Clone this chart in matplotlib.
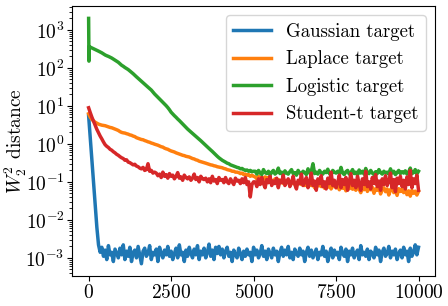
import numpy as np
import matplotlib
matplotlib.use("Agg")
import matplotlib.pyplot as plt
from matplotlib.ticker import LogLocator

# iterations (shared x grid, every 50 iterations)
STEPS = list(range(0, 10001, 50))

GAUSSIAN = [5.5, 1.4, 0.35, 0.09, 0.022, 0.0063, 0.0022, 0.0014,
    0.0019, 0.0011, 0.0016, 0.0009, 0.0021, 0.0012, 0.0014, 0.0008, 0.0017, 0.0013,
    0.0010, 0.0018, 0.0012, 0.0022, 0.0009, 0.0015, 0.0011, 0.0019, 0.0008, 0.0014,
    0.0016, 0.0010, 0.0020, 0.0012, 0.0007, 0.0015, 0.0018, 0.0011, 0.0013, 0.0021,
    0.0009, 0.0014, 0.0012, 0.0017, 0.0008, 0.0019, 0.0013, 0.0010, 0.0016, 0.0012,
    0.0020, 0.0011, 0.0015, 0.0009, 0.0013, 0.0018, 0.0010, 0.0022, 0.0012, 0.0014,
    0.0008, 0.0016, 0.0011, 0.0019, 0.0013, 0.0010, 0.0017, 0.0012, 0.0021, 0.0009,
    0.0015, 0.0012, 0.0018, 0.0010, 0.0014, 0.0023, 0.0011, 0.0016, 0.0009, 0.0019,
    0.0013, 0.0020, 0.0012, 0.0017, 0.0010, 0.0015, 0.0019, 0.0011, 0.0014, 0.0008,
    0.0016, 0.0012, 0.0010, 0.0018, 0.0013, 0.0009, 0.0015, 0.0011, 0.0017, 0.0012,
    0.0014, 0.0008, 0.0019, 0.0012, 0.0016, 0.0010, 0.0013, 0.0021, 0.0011, 0.0015,
    0.0009, 0.0017, 0.0013, 0.0010, 0.0018, 0.0012, 0.0015, 0.0008, 0.0014, 0.0019,
    0.0011, 0.0016, 0.0012, 0.0020, 0.0010, 0.0014, 0.0009, 0.0017, 0.0013, 0.0011,
    0.0018, 0.0012, 0.0015, 0.0008, 0.0014, 0.0019, 0.0011, 0.0016, 0.0010, 0.0013,
    0.0017, 0.0009, 0.0014, 0.0012, 0.0020, 0.0011, 0.0015, 0.0008, 0.0013, 0.0018,
    0.0010, 0.0016, 0.0012, 0.0014, 0.0009, 0.0019, 0.0013, 0.0011, 0.0017, 0.0008,
    0.0015, 0.0012, 0.0018, 0.0010, 0.0013, 0.0016, 0.0009, 0.0021, 0.0012, 0.0014,
    0.0011, 0.0017, 0.0009, 0.0015, 0.0013, 0.0010, 0.0019, 0.0012, 0.0016, 0.0008,
    0.0014, 0.0018, 0.0011, 0.0013, 0.0020, 0.0010, 0.0015, 0.0012, 0.0017, 0.0009,
    0.0013, 0.0016, 0.0010, 0.0019, 0.0012, 0.0015, 0.0008, 0.0018, 0.0011, 0.0014,
    0.0022, 0.0012, 0.0019]

LAPLACE = [6.2, 5.0, 4.4, 4.0, 3.7, 3.5, 3.3, 3.2, 3.1, 3.05, 3.0,
    2.9, 2.8, 2.7, 2.65, 2.55, 2.45, 2.35, 2.25, 2.1, 2.0,
    1.95, 1.92, 1.85, 1.8, 1.72, 1.68, 1.6, 1.55, 1.45, 1.4,
    1.36, 1.3, 1.28, 1.22, 1.18, 1.13, 1.1, 1.05, 1.02, 0.98,
    0.95, 0.92, 0.88, 0.84, 0.82, 0.77, 0.74, 0.72, 0.68, 0.65,
    0.63, 0.61, 0.58, 0.56, 0.54, 0.52, 0.50, 0.49, 0.47, 0.46,
    0.45, 0.43, 0.41, 0.40, 0.38, 0.37, 0.35, 0.34, 0.33, 0.32,
    0.31, 0.30, 0.29, 0.28, 0.275, 0.265, 0.26, 0.25, 0.245, 0.24,
    0.235, 0.225, 0.22, 0.21, 0.205, 0.2, 0.19, 0.19, 0.18, 0.18,
    0.175, 0.165, 0.17, 0.155, 0.16, 0.15, 0.155, 0.14, 0.15, 0.14,
    0.135, 0.12, 0.14, 0.125, 0.13, 0.115, 0.135, 0.12, 0.13, 0.11,
    0.11, 0.1, 0.12, 0.095, 0.115, 0.1, 0.105, 0.09, 0.11, 0.1,
    0.1, 0.085, 0.105, 0.09, 0.095, 0.08, 0.1, 0.09, 0.085, 0.095,
    0.08, 0.09, 0.075, 0.095, 0.08, 0.085, 0.07, 0.09, 0.078, 0.082,
    0.075, 0.088, 0.068, 0.08, 0.072, 0.09, 0.065, 0.078, 0.085, 0.07,
    0.076, 0.062, 0.08, 0.068, 0.074, 0.058, 0.072, 0.066, 0.082, 0.064,
    0.07, 0.06, 0.075, 0.064, 0.052, 0.07, 0.062, 0.078, 0.056, 0.068,
    0.062, 0.072, 0.05, 0.066, 0.06, 0.075, 0.048, 0.064, 0.07, 0.055,
    0.065, 0.045, 0.062, 0.07, 0.052, 0.06, 0.044, 0.066, 0.056, 0.063,
    0.052, 0.062, 0.046, 0.058, 0.042, 0.06, 0.05, 0.057, 0.045, 0.056]

LOGISTIC_HEAD_ITERS = [0, 10, 20]
LOGISTIC_HEAD = [2000, 150, 360]
LOGISTIC = [350, 335, 318, 302, 290, 275, 262, 248, 232, 218,
    208, 200, 190, 181, 170, 160, 150, 140, 128, 117,
    110, 102, 96, 90, 83, 76, 70, 64, 58, 53,
    48, 44, 40.5, 37, 34, 31, 28.5, 26, 23, 20.5,
    18.5, 16.8, 15.2, 13.7, 12.4, 11.2, 10.1, 9.0, 7.9, 6.8,
    6.1, 5.5, 5.0, 4.5, 4.1, 3.7, 3.35, 3.0, 2.7, 2.45,
    2.25, 2.05, 1.88, 1.72, 1.58, 1.45, 1.33, 1.21, 1.1, 1.0,
    0.91, 0.83, 0.76, 0.69, 0.63, 0.57, 0.52, 0.47, 0.43, 0.40,
    0.37, 0.35, 0.33, 0.31, 0.3, 0.28, 0.27, 0.26, 0.25, 0.24,
    0.235, 0.22, 0.225, 0.21, 0.2, 0.205, 0.19, 0.2, 0.185, 0.19,
    0.19, 0.16, 0.2, 0.17, 0.155, 0.21, 0.175, 0.165, 0.19, 0.15,
    0.18, 0.2, 0.16, 0.175, 0.23, 0.165, 0.18, 0.15, 0.195, 0.17,
    0.16, 0.185, 0.21, 0.165, 0.175, 0.15, 0.2, 0.17, 0.16, 0.19,
    0.175, 0.155, 0.22, 0.17, 0.19, 0.3, 0.165, 0.18, 0.16, 0.2,
    0.17, 0.16, 0.19, 0.175, 0.215, 0.165, 0.15, 0.2, 0.18, 0.17,
    0.19, 0.165, 0.24, 0.17, 0.155, 0.185, 0.2, 0.16, 0.175, 0.21,
    0.165, 0.18, 0.15, 0.205, 0.17, 0.19, 0.16, 0.225, 0.175, 0.165,
    0.2, 0.17, 0.155, 0.185, 0.165, 0.21, 0.175, 0.16, 0.19, 0.17,
    0.18, 0.16, 0.22, 0.17, 0.19, 0.155, 0.175, 0.2, 0.165, 0.185,
    0.17, 0.195, 0.16, 0.18, 0.23, 0.165, 0.175, 0.21, 0.16, 0.19]

STUDENT_T = [8.9, 6.6, 5.0, 3.9, 3.0, 2.4, 1.95, 1.6, 1.35, 1.12, 0.95,
    0.86, 0.8, 0.72, 0.68, 0.62, 0.58, 0.53, 0.5, 0.46, 0.43,
    0.41, 0.37, 0.38, 0.33, 0.32, 0.3, 0.28, 0.29, 0.26, 0.25,
    0.23, 0.22, 0.24, 0.2, 0.21, 0.3, 0.19, 0.2, 0.17, 0.18,
    0.17, 0.145, 0.16, 0.13, 0.18, 0.14, 0.155, 0.125, 0.165, 0.14,
    0.15, 0.12, 0.14, 0.175, 0.125, 0.135, 0.11, 0.15, 0.13, 0.12,
    0.135, 0.11, 0.125, 0.16, 0.115, 0.13, 0.1, 0.14, 0.12, 0.115,
    0.125, 0.1, 0.12, 0.095, 0.14, 0.105, 0.115, 0.09, 0.13, 0.11,
    0.115, 0.095, 0.13, 0.1, 0.09, 0.12, 0.1, 0.085, 0.125, 0.105,
    0.11, 0.09, 0.12, 0.095, 0.13, 0.085, 0.1, 0.04, 0.085, 0.1,
    0.1, 0.075, 0.12, 0.085, 0.13, 0.09, 0.07, 0.115, 0.095, 0.14,
    0.08, 0.105, 0.09, 0.125, 0.07, 0.11, 0.095, 0.15, 0.08, 0.1,
    0.12, 0.075, 0.095, 0.14, 0.085, 0.065, 0.11, 0.09, 0.16, 0.08,
    0.1, 0.13, 0.07, 0.095, 0.17, 0.08, 0.105, 0.06, 0.12, 0.09,
    0.145, 0.075, 0.1, 0.065, 0.125, 0.09, 0.18, 0.08, 0.11, 0.07,
    0.095, 0.15, 0.07, 0.115, 0.085, 0.13, 0.06, 0.1, 0.165, 0.08,
    0.11, 0.07, 0.14, 0.09, 0.06, 0.12, 0.085, 0.19, 0.075, 0.1,
    0.065, 0.13, 0.09, 0.155, 0.075, 0.105, 0.06, 0.12, 0.085, 0.145,
    0.08, 0.1, 0.17, 0.07, 0.115, 0.055, 0.125, 0.09, 0.14, 0.075,
    0.11, 0.065, 0.135, 0.085, 0.2, 0.07, 0.12, 0.09, 0.15, 0.06]

LABELS = ["Gaussian target", "Laplace target", "Logistic target", "Student-t target"]
XTICKS = [0, 2500, 5000, 7500, 10000]

plt.rcParams["font.family"] = "serif"
plt.rcParams["font.serif"] = ["cmr10"]
plt.rcParams["mathtext.fontset"] = "cm"
plt.rcParams["axes.formatter.use_mathtext"] = True

fig = plt.figure(figsize=(4.48, 3.06), dpi=100)
ax = fig.add_axes([0.161, 0.098, 0.81, 0.882])

lw = 2.5
ax.plot(STEPS, GAUSSIAN, color="tab:blue", lw=lw, label=LABELS[0])
ax.plot(STEPS, LAPLACE, color="tab:orange", lw=lw, label=LABELS[1])
ax.plot(LOGISTIC_HEAD_ITERS + STEPS[1:], LOGISTIC_HEAD + LOGISTIC,
        color="tab:green", lw=lw, label=LABELS[2])
ax.plot(STEPS, STUDENT_T, color="tab:red", lw=lw, label=LABELS[3])

ax.set_yscale("log")
ax.yaxis.set_major_locator(LogLocator(base=10, numticks=30))
ax.yaxis.set_minor_locator(LogLocator(base=10, subs=np.arange(2, 10), numticks=30))
ax.set_xticks(XTICKS)
ax.tick_params(labelsize=14, pad=2)
ax.set_ylabel(r"$W_2^2$ distance", fontsize=14)
ax.yaxis.set_label_coords(-0.12, 0.5)
ax.legend(loc="upper right", prop={"family": "serif", "size": 13.5})

fig.savefig("out.png", dpi=100)
